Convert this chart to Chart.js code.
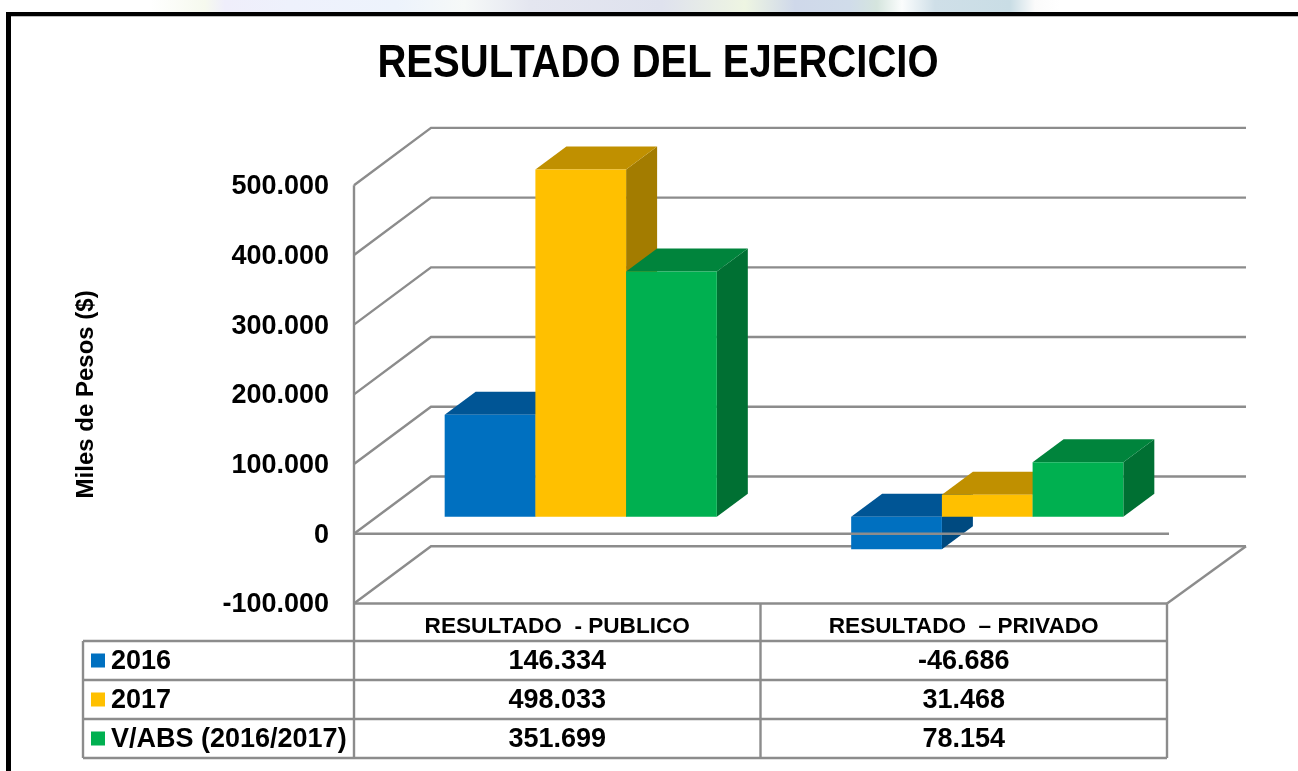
<!DOCTYPE html>
<html><head><meta charset="utf-8">
<script src="https://cdn.jsdelivr.net/npm/chart.js@4"></script>
<style>
html,body{margin:0;padding:0;background:#fff;overflow:hidden}
#strip{position:absolute;left:0;top:0;width:1298px;height:13px;
background:linear-gradient(90deg,#fff 0,#fff 150px,#f6f9ee 205px,#efeefb 225px,#eef1fc 290px,#edf3fc 397px,#f6f9f8 464px,#e4e6f0 530px,#dfe2ee 662px,#eef5e2 745px,#cfd8ea 795px,#d0dcea 850px,#d5e5de 877px,#fbfdfd 902px,#cfdfe8 935px,#c9dde5 1010px,#fbfbfb 1035px,#fff 1060px)}
#wrap{position:absolute;left:0;top:0;width:1298px;height:771px}
</style></head><body>
<div id="strip"></div>
<div id="wrap"><canvas id="c" width="1298" height="771"></canvas></div>
<script>
const categories = ['RESULTADO  - PUBLICO', 'RESULTADO  – PRIVADO'];
const seriesNames = ['2016', '2017', 'V/ABS (2016/2017)'];
const values2016 = [146334, -46686];
const values2017 = [498033, 31468];
const valuesAbs = [351699, 78154];
const seriesValues = [values2016, values2017, valuesAbs];
const front = ['#0070C0', '#FFC000', '#00B050'];
const topFace = ['#005595', '#C09000', '#00843C'];
const sideFace = ['#004A80', '#A37C00', '#007033'];
const GRID = '#8C8C8C';
const FONT = '"Liberation Sans"';

const fmt = v => {
  const s = Math.abs(v).toString().replace(/\B(?=(\d{3})+(?!\d))/g, '.');
  return (v < 0 ? '-' : '') + s;
};

function line(ctx, pts, w) {
  ctx.beginPath();
  ctx.moveTo(pts[0][0], pts[0][1]);
  for (let i = 1; i < pts.length; i++) ctx.lineTo(pts[i][0], pts[i][1]);
  ctx.lineWidth = w || 2.4;
  ctx.strokeStyle = GRID;
  ctx.stroke();
}
function poly(ctx, pts, c) {
  ctx.beginPath();
  ctx.moveTo(pts[0][0], pts[0][1]);
  for (let i = 1; i < pts.length; i++) ctx.lineTo(pts[i][0], pts[i][1]);
  ctx.closePath();
  ctx.fillStyle = c;
  ctx.fill();
}

// 3D construction offsets
const WALL_DX = 77, WALL_DY = -57.3;
const BAR_DX = 23.5, BAR_DY = -17;
const DEPTH_DX = 31, DEPTH_DY = -23;
const TITLE_CENTER = 658, TITLE_SQUEEZE = 0.87;
const rowY = [603, 641, 680, 719, 758];

const scene = {
  id: 'scene',
  beforeDraw(chart) {
    const ctx = chart.ctx, tb = chart.titleBlock, ys = chart.scales.y;
    if (!tb._squeezed) {
      tb._squeezed = true;
      tb.left = 0; tb.right = TITLE_CENTER * 2;
      const drawTitle = tb.draw.bind(tb);
      tb.draw = () => {
        ctx.save();
        ctx.translate(TITLE_CENTER, 0);
        ctx.scale(TITLE_SQUEEZE, 1);
        ctx.translate(-TITLE_CENTER, 0);
        drawTitle();
        ctx.restore();
      };
      const drawLabels = ys.drawLabels.bind(ys);
      ys.drawLabels = area => {
        ctx.save();
        ctx.translate(0, 1.5);
        drawLabels(area);
        ctx.restore();
      };
    }
    ctx.save();
    ctx.fillStyle = '#fff';
    ctx.fillRect(6, 12, 1292, 759);
    ctx.fillStyle = '#000';
    ctx.fillRect(6, 12, 1292, 4);
    ctx.fillRect(6, 12, 5, 759);
    ctx.fillStyle = '#bbb';
    ctx.fillRect(11, 16, 1287, 1);
    ctx.restore();
  },
  beforeDatasetsDraw(chart) {
    const ctx = chart.ctx, y = chart.scales.y, a = chart.chartArea;
    ctx.save();
    // walls
    y.ticks.forEach(t => {
      const p = y.getPixelForValue(t.value);
      line(ctx, [[a.left, p], [a.left + WALL_DX, p + WALL_DY], [a.right + WALL_DX + 2, p + WALL_DY]]);
    });
    const floor = y.getPixelForValue(-100000);
    line(ctx, [[a.right, floor], [a.right + WALL_DX + 2, floor + WALL_DY]]);
    line(ctx, [[a.left, y.getPixelForValue(500000)], [a.left, rowY[4]]]);
    // bars: blue first, green last, each with its depth faces
    seriesValues.forEach((_, i) => {
      const meta = chart.getDatasetMeta(i);
      ctx.save();
      ctx.translate(BAR_DX, BAR_DY);
      meta.data.forEach(el => {
        const x0 = el.x - el.width / 2, x1 = el.x + el.width / 2;
        const t = Math.min(el.y, el.base), b = Math.max(el.y, el.base);
        poly(ctx, [[x1, t], [x1 + DEPTH_DX, t + DEPTH_DY], [x1 + DEPTH_DX, b + DEPTH_DY], [x1, b]], sideFace[i]);
        poly(ctx, [[x0, t], [x1, t], [x1 + DEPTH_DX, t + DEPTH_DY], [x0 + DEPTH_DX, t + DEPTH_DY]], topFace[i]);
      });
      meta.controller.draw();
      ctx.restore();
    });
    // front zero line passes over the bars
    const z = y.getPixelForValue(0);
    line(ctx, [[a.left, z], [a.right + 2, z]]);
    // floor front + data table
    line(ctx, [[a.left, floor], [a.right, floor]]);
    const xs = [83, a.left, (a.left + a.right) / 2, a.right];
    rowY.slice(1).forEach(r => line(ctx, [[83, r], [a.right, r]]));
    line(ctx, [[83, rowY[1]], [83, rowY[4]]]);
    line(ctx, [[xs[2], floor], [xs[2], rowY[4]]]);
    line(ctx, [[xs[3], floor], [xs[3], rowY[4]]]);
    // table text
    ctx.textBaseline = 'middle';
    ctx.font = 'bold 27px ' + FONT;
    const x = chart.scales.x;
    seriesNames.forEach((n, i) => {
      const cy = (rowY[i + 1] + rowY[i + 2]) / 2;
      ctx.fillStyle = front[i];
      ctx.fillRect(91, cy - 7, 14, 14);
      ctx.fillStyle = '#000';
      ctx.textAlign = 'left';
      ctx.fillText(n, 111, cy + 1.5);
      ctx.textAlign = 'center';
      seriesValues[i].forEach((v, j) => ctx.fillText(fmt(v), x.getPixelForTick(j), cy + 1.5));
    });
    ctx.restore();
    return false;
  }
};

new Chart(document.getElementById('c'), {
  type: 'bar',
  data: {
    labels: categories,
    datasets: seriesNames.map((n, i) => ({
      label: n, data: seriesValues[i], backgroundColor: front[i], borderWidth: 0,
      barPercentage: 1, categoryPercentage: 0.6695, clip: false
    }))
  },
  plugins: [scene],
  options: {
    responsive: false, animation: false,
    layout: { padding: { left: 72, right: 131, top: 0, bottom: 0 } },
    plugins: {
      legend: { display: false },
      tooltip: { enabled: false },
      title: {
        display: true, text: 'RESULTADO DEL EJERCICIO', color: '#000',
        font: { family: FONT, size: 46, weight: 'bold', lineHeight: 1.2 },
        padding: { top: 36.5, bottom: 93.5 }
      }
    },
    scales: {
      x: {
        grid: { display: false }, border: { display: false },
        ticks: { color: '#000', padding: 2, maxRotation: 0, autoSkip: false,
          font: { family: FONT, size: 22.6, weight: 'bold' } },
        afterFit(s) { s.height = 167.5; }
      },
      y: {
        min: -100000, max: 500000,
        grid: { display: false }, border: { display: false },
        ticks: { stepSize: 100000, color: '#000', padding: 17,
          font: { family: FONT, size: 27, weight: 'bold' }, callback: v => fmt(v) },
        title: { display: true, text: 'Miles de Pesos ($)', color: '#000',
          font: { family: FONT, size: 24, weight: 'bold' }, padding: 0 },
        afterFit(s) { s.width = 282; }
      }
    }
  }
});
</script>
</body></html>
